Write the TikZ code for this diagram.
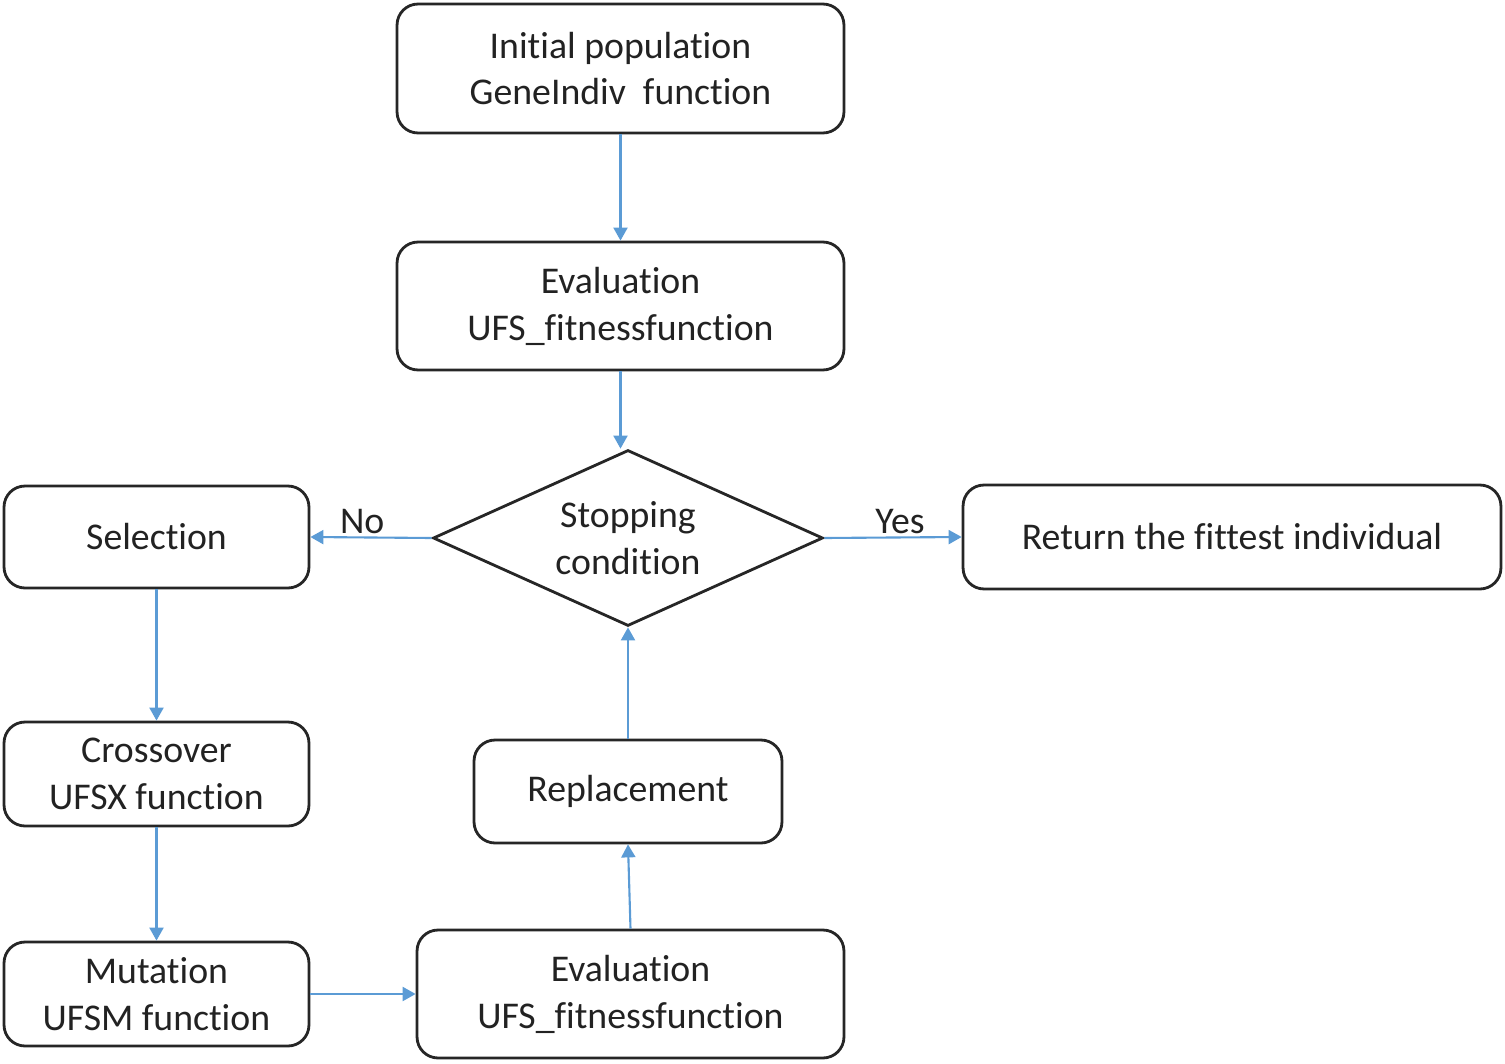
\documentclass[tikz,border=0pt]{standalone}
\usepackage{fontspec}
\setmainfont{Carlito}[Ligatures=NoCommon]
\usetikzlibrary{shapes.geometric,arrows.meta}
\definecolor{arrowblue}{HTML}{5B9BD5}
\definecolor{textgray}{HTML}{222222}
\begin{document}
\begin{tikzpicture}[x=0.02cm,y=-0.02cm,
  box/.style={draw=black!85, line width=1.6pt, rounded corners=0.42cm, align=center,
    inner sep=0pt, text=textgray, font=\fontsize{21.5}{26.7}\selectfont},
  decision/.style={draw=black!85, line width=1.6pt, diamond, shape aspect=2.2, align=center, inner sep=0pt,
    text=textgray, font=\fontsize{21.5}{26.7}\selectfont},
  flow/.style={draw=arrowblue, line width=1.2pt, -{Triangle[length=0.26cm,width=0.28cm]}},
  lbl/.style={text=textgray, font=\fontsize{21.5}{26.7}\selectfont}]
\useasboundingbox (0,0) rectangle (1505,1064);
\node[box, minimum width=8.94cm, minimum height=2.58cm] (init) at (620.5,68.5) {Initial population\\GeneIndiv\ \ function};
\node[box, minimum width=8.94cm, minimum height=2.56cm] (eval1) at (620.5,306) {Evaluation\\UFS\_fitnessfunction};
\node[decision, minimum width=7.8cm, minimum height=3.52cm] (stop) at (628,538) {Stopping\\condition};
\node[box, minimum width=6.1cm, minimum height=2.04cm] (sel) at (156.5,537) {Selection};
\node[box, minimum width=10.76cm, minimum height=2.08cm] (ret) at (1232,537) {Return the fittest individual};
\node[box, minimum width=6.1cm, minimum height=2.08cm] (cross) at (156.5,774) {Crossover\\UFSX function};
\node[box, minimum width=6.1cm, minimum height=2.08cm] (mut) at (156.5,994) {Mutation\\UFSM function};
\node[box, minimum width=8.54cm, minimum height=2.56cm] (eval2) at (630.5,994) {Evaluation\\UFS\_fitnessfunction};
\node[box, minimum width=6.16cm, minimum height=2.06cm] (rep) at (628,791.5) {Replacement};
\draw[flow] (init.south) -- (eval1.north);
\draw[flow] (eval1.south) -- (eval1.south |- stop.north);
\draw[flow] (stop.west) -- (sel.east) node[lbl, midway, above=-2pt, xshift=-5pt] (no) {No};
\draw[flow] (stop.east) -- (ret.west) node[lbl, midway, above=-2pt, xshift=4pt] (yes) {Yes};
\draw[flow] (sel.south) -- (cross.north);
\draw[flow] (cross.south) -- (mut.north);
\draw[flow] (mut.east) -- (eval2.west);
\draw[flow] (eval2.north) -- (rep.south);
\draw[flow] (rep.north) -- (stop.south);
\end{tikzpicture}
\end{document}
